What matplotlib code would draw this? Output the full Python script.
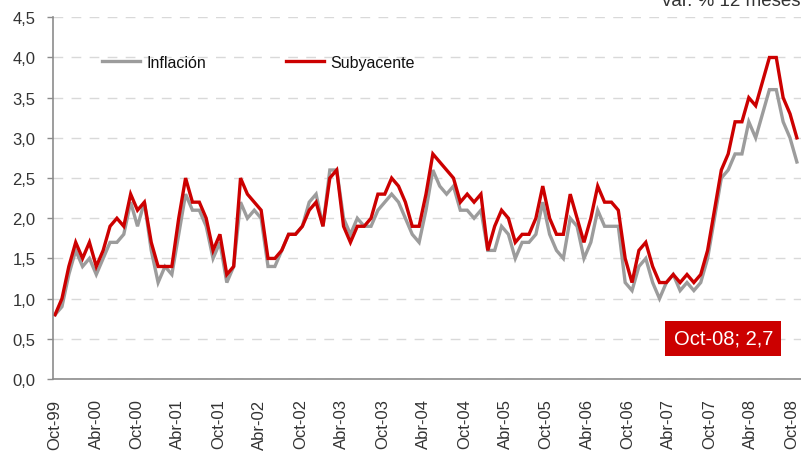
import numpy as np
import matplotlib
matplotlib.use("Agg")
import matplotlib.pyplot as plt

plt.rcParams['font.family'] = ['Liberation Sans', 'DejaVu Sans']

# monthly data, Oct-99 .. Oct-08 (var. % 12 meses)
inflacion = [
    0.8, 0.9, 1.3, 1.6, 1.4, 1.5, 1.3, 1.5, 1.7, 1.7, 1.8, 2.2,
    1.9, 2.2, 1.6, 1.2, 1.4, 1.3, 1.8, 2.3, 2.1, 2.1, 1.9, 1.5,
    1.7, 1.2, 1.4, 2.2, 2.0, 2.1, 2.0, 1.4, 1.4, 1.6, 1.8, 1.8,
    1.9, 2.2, 2.3, 1.9, 2.6, 2.6, 2.0, 1.8, 2.0, 1.9, 1.9, 2.1,
    2.2, 2.3, 2.2, 2.0, 1.8, 1.7, 2.1, 2.6, 2.4, 2.3, 2.4, 2.1,
    2.1, 2.0, 2.1, 1.6, 1.6, 1.9, 1.8, 1.5, 1.7, 1.7, 1.8, 2.2,
    1.8, 1.6, 1.5, 2.0, 1.9, 1.5, 1.7, 2.1, 1.9, 1.9, 1.9, 1.2,
    1.1, 1.4, 1.5, 1.2, 1.0, 1.2, 1.3, 1.1, 1.2, 1.1, 1.2, 1.5,
    2.0, 2.5, 2.6, 2.8, 2.8, 3.2, 3.0, 3.3, 3.6, 3.6, 3.2, 3.0,
    2.7,
]
subyacente = [
    0.8, 1.0, 1.4, 1.7, 1.5, 1.7, 1.4, 1.6, 1.9, 2.0, 1.9, 2.3,
    2.1, 2.2, 1.7, 1.4, 1.4, 1.4, 2.0, 2.5, 2.2, 2.2, 2.0, 1.6,
    1.8, 1.3, 1.4, 2.5, 2.3, 2.2, 2.1, 1.5, 1.5, 1.6, 1.8, 1.8,
    1.9, 2.1, 2.2, 1.9, 2.5, 2.6, 1.9, 1.7, 1.9, 1.9, 2.0, 2.3,
    2.3, 2.5, 2.4, 2.2, 1.9, 1.9, 2.3, 2.8, 2.7, 2.6, 2.5, 2.2,
    2.3, 2.2, 2.3, 1.6, 1.9, 2.1, 2.0, 1.7, 1.8, 1.8, 2.0, 2.4,
    2.0, 1.8, 1.8, 2.3, 2.0, 1.7, 2.0, 2.4, 2.2, 2.2, 2.1, 1.5,
    1.2, 1.6, 1.7, 1.4, 1.2, 1.2, 1.3, 1.2, 1.3, 1.2, 1.3, 1.6,
    2.1, 2.6, 2.8, 3.2, 3.2, 3.5, 3.4, 3.7, 4.0, 4.0, 3.5, 3.3,
    3.0,
]
tick_labels = ["Oct-99", "Abr-00", "Oct-00", "Abr-01", "Oct-01", "Abr-02",
               "Oct-02", "Abr-03", "Oct-03", "Abr-04", "Oct-04", "Abr-05",
               "Oct-05", "Abr-06", "Oct-06", "Abr-07", "Oct-07", "Abr-08",
               "Oct-08"]
y_ticks = np.arange(0, 4.51, 0.5)
last_label = "Oct-08; 2,7"

gray = "#9C9C9C"
red = "#CC0000"
txt = "#333333"

x = np.arange(len(inflacion))

fig = plt.figure(figsize=(8.01, 4.52), dpi=100)
ax = fig.add_axes([0.0662, 0.1593, 0.9338, 0.8002])

ax.plot(x, inflacion, color=gray, lw=2.4, label="Inflación", solid_joinstyle="miter")
ax.plot(x, subyacente, color=red, lw=2.4, label="Subyacente", solid_joinstyle="miter")

ax.set_ylim(0, 4.5)
ax.set_xlim(-0.3, 108.6)
ax.set_yticks(y_ticks)
ax.set_yticklabels([f"{v:.1f}".replace(".", ",") for v in y_ticks])
# category labels sit a little left of the points, as in the source chart
ax.set_xticks(x[::6] * 0.993)
ax.set_xticklabels(tick_labels, rotation=90)

ax.yaxis.grid(True, color="#D9D9D9", lw=1, linestyle=(0, (7, 6)))
ax.set_axisbelow(True)

for s in ["top", "right"]:
    ax.spines[s].set_visible(False)
for s in ["left", "bottom"]:
    ax.spines[s].set_color("#8C8C8C")
    ax.spines[s].set_linewidth(1.2)

ax.tick_params(axis="y", length=4.5, width=1, color="#8C8C8C",
               labelsize=12, labelcolor=txt, pad=8)
ax.tick_params(axis="x", length=0, labelsize=12, labelcolor=txt, pad=14)

ax.legend(loc="center left", bbox_to_anchor=(0.065, 0.876), ncol=2,
          frameon=False, fontsize=11.5, handlelength=2.4, handletextpad=0.4,
          columnspacing=5.0, borderpad=0, borderaxespad=0,
          labelcolor="#111111")

ax.text(0.896, 0.112, last_label, transform=ax.transAxes, ha="center",
        va="center", fontsize=14.5, color="white",
        bbox=dict(boxstyle="square,pad=0.42", fc=red, ec="none"))

fig.text(1.0, 0.987, "var. % 12 meses", ha="right", va="baseline",
         fontsize=13.5, color=txt)

fig.savefig("out.png", dpi=100)
